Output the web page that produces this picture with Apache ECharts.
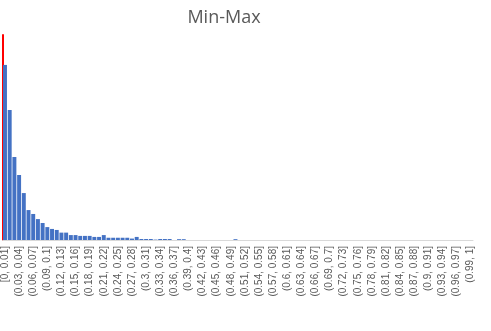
<!DOCTYPE html>
<html>
<head>
<meta charset="utf-8">
<script src="https://cdn.jsdelivr.net/npm/echarts@6/dist/echarts.min.js"></script>
<style>
html,body{margin:0;padding:0;background:#fff;}
#chart{width:491px;height:331px;}
</style>
</head>
<body>
<div id="chart"></div>
<script>
var titleText = 'Min-Max';
// bin edges (width 0.01 from 0 to 1)
var binCount = 100;
var binWidth = 0.01;
// frequency of each bin (relative)
var values = [
  85.4, 63.4, 40.5, 31.7, 22.9, 14.6, 12.7, 10.2, 8.3, 6.3,
  5.4, 4.9, 3.6, 3.6, 2.4, 2.4, 2.0, 2.0, 2.0, 1.5,
  1.5, 2.4, 1.1, 1.1, 1.1, 1.1, 1.1, 0.7, 1.5, 0.5,
  0.5, 0.5, 0.2, 0.5, 0.5, 0.5, 0, 0.4, 0.4, 0,
  0, 0, 0, 0, 0, 0, 0, 0, 0, 0.4,
  0, 0, 0, 0, 0, 0, 0, 0, 0, 0,
  0, 0, 0, 0, 0, 0, 0, 0, 0, 0,
  0, 0, 0, 0, 0, 0, 0, 0, 0, 0,
  0, 0, 0, 0, 0, 0, 0, 0, 0, 0,
  0, 0, 0, 0, 0, 0, 0, 0, 0, 0
];
function fmt(v){ return String(Number(v.toFixed(2))); }
var categories = [];
for (var k = 0; k < binCount; k++) {
  var lo = fmt(k * binWidth), hi = fmt((k + 1) * binWidth);
  categories.push((k === 0 ? '[' : '(') + lo + ', ' + hi + ']');
}
var chart = echarts.init(document.getElementById('chart'));
chart.setOption({
  animation: false,
  title: {
    text: titleText,
    left: 219,
    textAlign: 'center',
    top: 4,
    textStyle: {fontFamily: 'Open Sans', fontSize: 18, fontWeight: 'normal', color: '#595959'}
  },
  grid: {left: 1, right: 18, top: 35, bottom: 91, containLabel: false},
  xAxis: {
    type: 'category',
    data: categories,
    axisLine: {lineStyle: {color: '#d9d9d9', width: 1}},
    axisTick: {show: false},
    axisLabel: {
      interval: 2,
      rotate: 90,
      margin: 6,
      fontFamily: 'Liberation Sans',
      fontSize: 10,
      color: '#595959'
    }
  },
  yAxis: {
    type: 'value',
    min: 0,
    max: 100,
    axisLine: {show: true, lineStyle: {color: '#ff0000', width: 2}},
    axisTick: {show: false},
    axisLabel: {show: false},
    splitLine: {show: false}
  },
  series: [{
    type: 'bar',
    data: values,
    barCategoryGap: '16%',
    itemStyle: {color: '#4472C4'}
  }]
});
</script>
</body>
</html>
